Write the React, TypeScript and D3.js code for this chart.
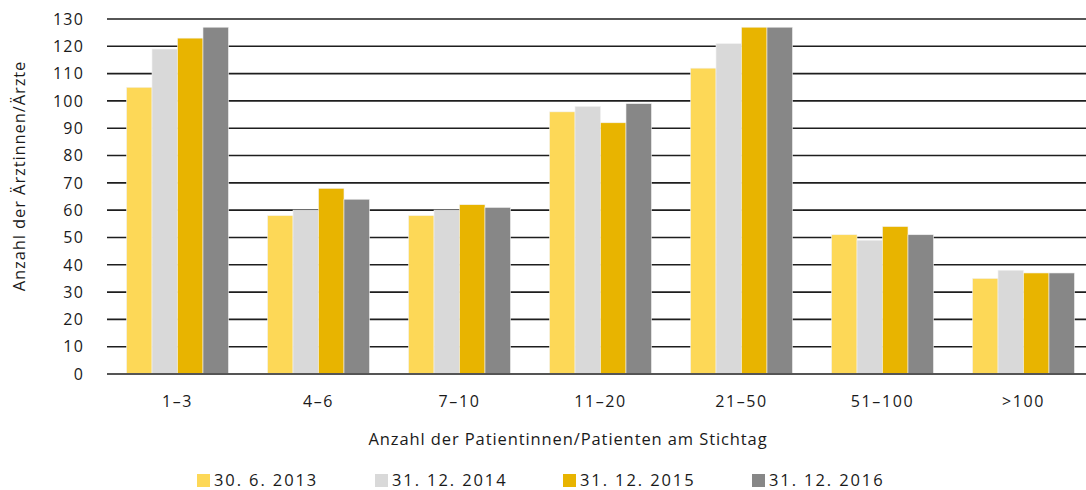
import React, { useEffect, useRef } from 'react';
import * as d3 from 'd3';

const categories = ['1–3', '4–6', '7–10', '11–20', '21–50', '51–100', '>100'];
const seriesNames = ['30. 6. 2013', '31. 12. 2014', '31. 12. 2015', '31. 12. 2016'];
const values2013 = [105, 58, 58, 96, 112, 51, 35];
const values2014 = [119, 60, 60, 98, 121, 49, 38];
const values2015 = [123, 68, 62, 92, 127, 54, 37];
const values2016 = [127, 64, 61, 99, 127, 51, 37];
const yTicks = d3.range(0, 131, 10);
const colors = ['#fdd857', '#d9d9d9', '#e8b400', '#878787'];

const FONT = '"Open Sans", "DejaVu Sans", sans-serif';

export default function App() {
  const ref = useRef<SVGSVGElement>(null);

  useEffect(() => {
    const svg = d3.select(ref.current);
    svg.selectAll('*').remove();

    const width = 1086, height = 490;
    const margin = { top: 19, left: 107, right: -8, bottom: 116 };
    const h = height - margin.top - margin.bottom;

    const series = [values2013, values2014, values2015, values2016];
    const data = categories.map((c, i) => ({ cat: c, vals: series.map(s => s[i]) }));

    const x = d3.scaleBand().domain(categories).range([margin.left, width - margin.right]).paddingInner(0.277).paddingOuter(0.1385);
    const xs = d3.scaleBand().domain(seriesNames).range([0, x.bandwidth()]);
    const y = d3.scaleLinear().domain([0, 130]).range([margin.top + h, margin.top]);

    // grid lines
    svg.append('g').selectAll('line')
      .data(yTicks.filter(t => t > 0))
      .join('line')
      .attr('x1', margin.left).attr('x2', width)
      .attr('y1', d => y(d)).attr('y2', d => y(d))
      .attr('stroke', '#1e1e1e').attr('stroke-width', 1.6);

    // bars
    svg.append('g').selectAll('g')
      .data(data)
      .join('g')
      .attr('transform', d => `translate(${x(d.cat)},0)`)
      .selectAll('rect')
      .data(d => d.vals.map((v, i) => ({ v, i })))
      .join('rect')
      .attr('x', d => xs(seriesNames[d.i]) as number)
      .attr('width', xs.bandwidth())
      .attr('y', d => y(d.v))
      .attr('height', d => y(0) - y(d.v))
      .attr('fill', d => colors[d.i])
      .attr('stroke', '#f2f2f2').attr('stroke-width', 0.6);

    // zero line
    svg.append('line')
      .attr('x1', margin.left).attr('x2', width)
      .attr('y1', y(0)).attr('y2', y(0))
      .attr('stroke', '#555').attr('stroke-width', 2);

    // y tick labels
    svg.append('g').selectAll('text')
      .data(yTicks)
      .join('text')
      .attr('x', 84).attr('y', d => y(d))
      .attr('dy', '0.36em')
      .attr('text-anchor', 'end')
      .style('font-family', FONT).style('font-size', '16px').style('letter-spacing', '1.2px')
      .attr('fill', '#1a1a1a')
      .text(d => d);

    // x tick labels
    svg.append('g').selectAll('text')
      .data(categories)
      .join('text')
      .attr('x', d => (x(d) as number) + x.bandwidth() / 2)
      .attr('y', 407)
      .attr('text-anchor', 'middle')
      .style('font-family', FONT).style('font-size', '16px').style('letter-spacing', '1.6px')
      .attr('fill', '#1a1a1a')
      .text(d => d);

    // axis titles
    svg.append('text')
      .attr('transform', 'translate(25,176) rotate(-90)')
      .attr('text-anchor', 'middle')
      .style('font-family', FONT).style('font-size', '16.5px').style('letter-spacing', '0.9px')
      .attr('fill', '#1a1a1a')
      .text('Anzahl der Ärztinnen/Ärzte');

    svg.append('text')
      .attr('x', 568).attr('y', 445)
      .attr('text-anchor', 'middle')
      .style('font-family', FONT).style('font-size', '16.5px').style('letter-spacing', '0.9px')
      .attr('fill', '#1a1a1a')
      .text('Anzahl der Patientinnen/Patienten am Stichtag');

    // legend
    const legendX = [197, 375, 563, 752];
    const legend = svg.append('g').selectAll('g')
      .data(seriesNames)
      .join('g')
      .attr('transform', (d, i) => `translate(${legendX[i]},474)`);
    legend.append('rect')
      .attr('width', 13).attr('height', 13)
      .attr('fill', (d, i) => colors[i]);
    legend.append('text')
      .attr('x', 17).attr('y', 12)
      .style('font-family', FONT).style('font-size', '16.5px').style('letter-spacing', '1.9px')
      .attr('fill', '#1a1a1a')
      .text(d => d);
  }, []);

  return (
    <svg ref={ref} width={1086} height={490}
      style={{ position: 'absolute', left: 0, top: 0, background: '#fff' }} />
  );
}
